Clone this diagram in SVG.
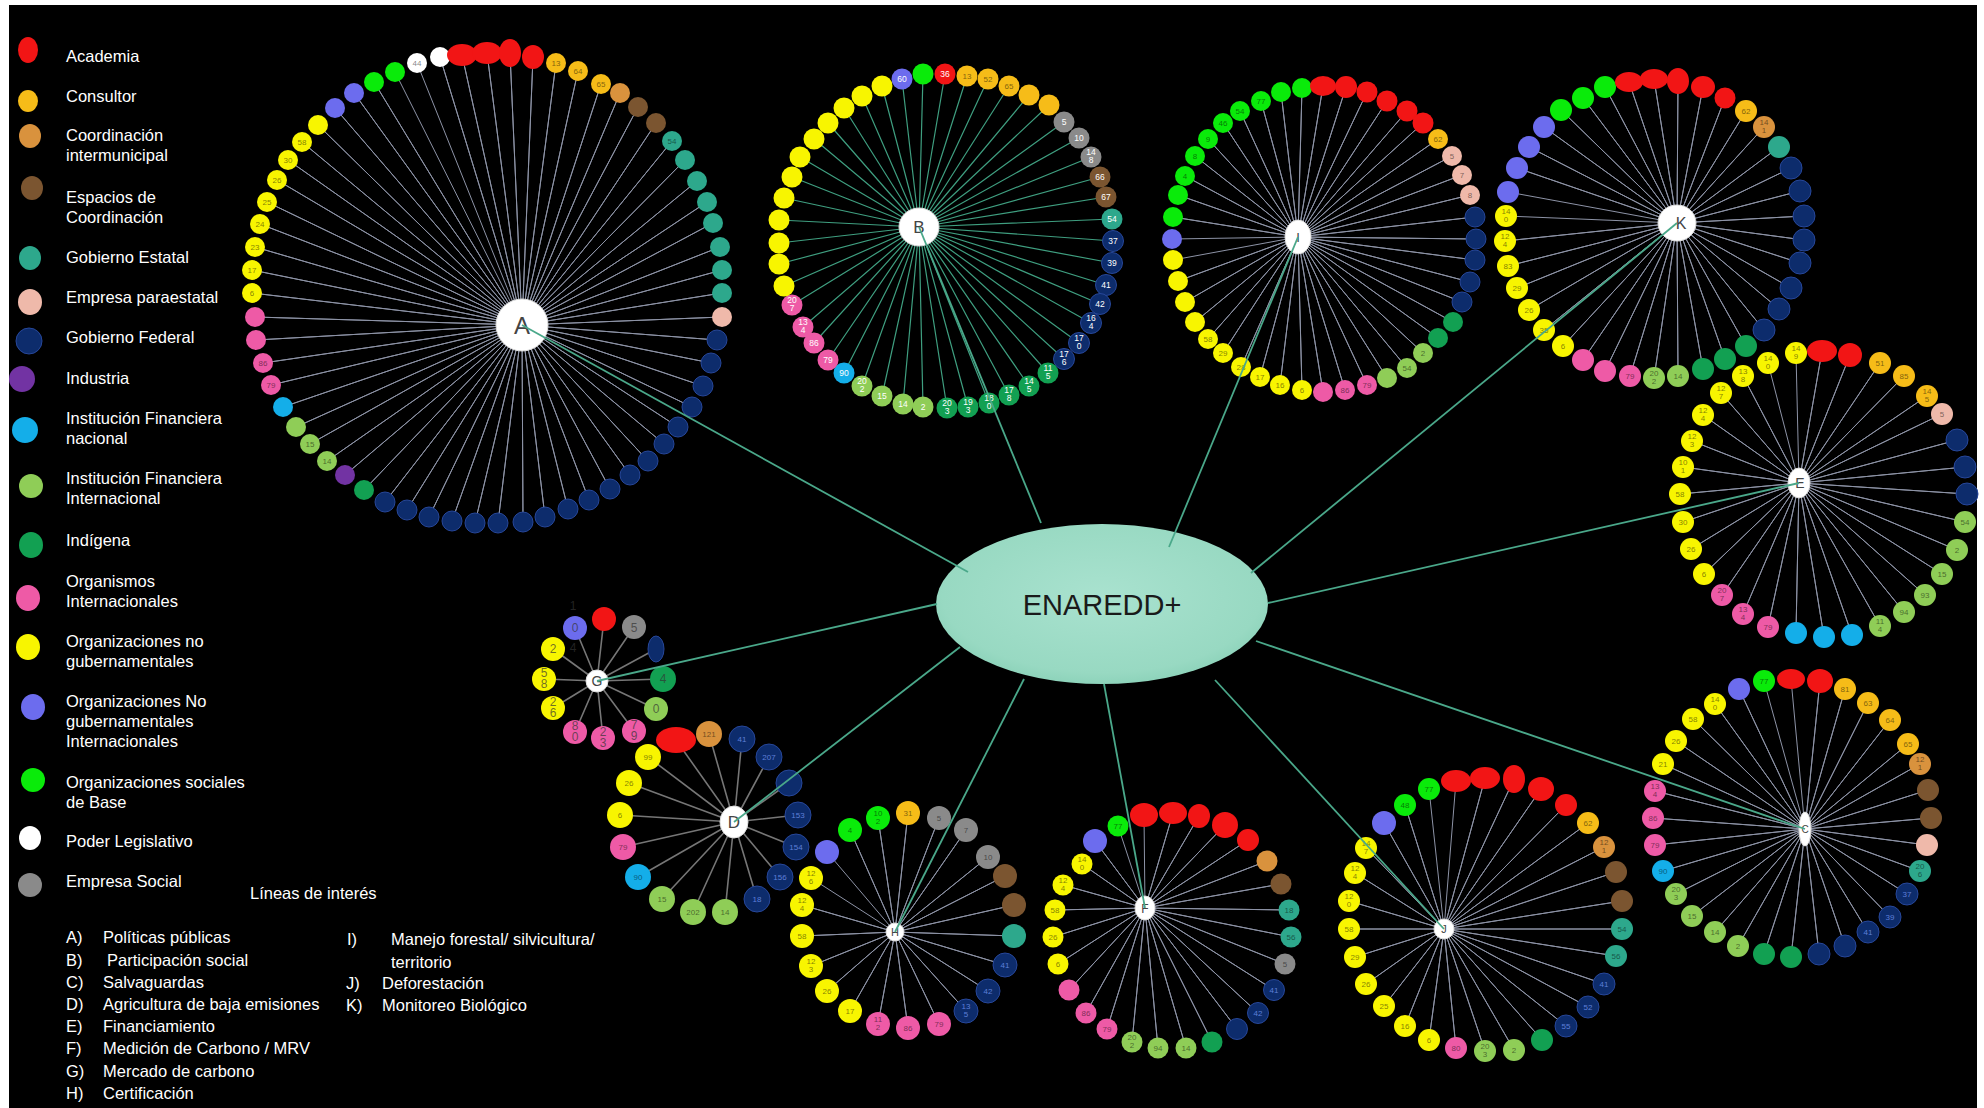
<svg xmlns="http://www.w3.org/2000/svg" width="1984" height="1108" viewBox="0 0 1984 1108">
<defs>
<radialGradient id="eg" cx="50%" cy="45%" r="60%">
<stop offset="0" stop-color="#a9e2cf"/><stop offset="0.8" stop-color="#98d9c2"/><stop offset="1" stop-color="#86cfb5"/>
</radialGradient>
<style>
.ac{fill:#f21515}.co{fill:#f6bc18}.ci{fill:#d9923d}.br{fill:#7b5530}.ge{fill:#2da88c}.ep{fill:#efb9aa}
.gf{fill:#0d2c6c;stroke:#27479a;stroke-width:1}.pu{fill:#7233a3}.sb{fill:#14aee9}.lg{fill:#8fcd57}
.in{fill:#12a052}.pk{fill:#ee5aa6}.ye{fill:#f8f500}.pw{fill:#6c6cee}.bg{fill:#0aeb0a}.wh{fill:#fff}.gy{fill:#8a8a8a}
.hub{fill:#fff;stroke:#ddd;stroke-width:1}
.sp{fill:none;stroke:#8d93a6;stroke-width:1;stroke-linejoin:round}
.spb{fill:none;stroke:#3f9f80;stroke-width:1.2;stroke-linejoin:round}
.spd{fill:none;stroke:#767676;stroke-width:1.6;stroke-linejoin:round}
.cn{stroke:#4aa88a;stroke-width:1.8;fill:none}
.lt{font-family:"Liberation Sans",Arial,sans-serif;font-size:16.5px;fill:#fff}
.t{font-family:"Liberation Sans",Arial,sans-serif;font-size:8px;text-anchor:middle;fill:#000;fill-opacity:.5}
.tw{font-family:"Liberation Sans",Arial,sans-serif;font-size:8.5px;text-anchor:middle;fill:#fff}
.tb{font-family:"Liberation Sans",Arial,sans-serif;font-size:8px;text-anchor:middle;fill:#5d7fd8}
.tg{font-family:"Liberation Sans",Arial,sans-serif;font-size:12px;text-anchor:middle;fill:#333;fill-opacity:.7}
.hl{font-family:"Liberation Sans",Arial,sans-serif;text-anchor:middle;fill:#444}
</style>
</defs>
<rect x="0" y="0" width="1984" height="1108" fill="#fff"/>
<rect x="9" y="5" width="1968" height="1103" fill="#000"/>

<g id="legend">
<ellipse class="ac" cx="28" cy="50" rx="10" ry="13"/><text class="lt" x="66" y="62">Academia</text>
<ellipse class="co" cx="28" cy="101" rx="10" ry="11"/><text class="lt" x="66" y="102">Consultor</text>
<ellipse class="ci" cx="30" cy="136" rx="11" ry="12"/><text class="lt" x="66" y="141">Coordinación</text><text class="lt" x="66" y="161">intermunicipal</text>
<ellipse class="br" cx="32" cy="188" rx="11" ry="12"/><text class="lt" x="66" y="203">Espacios de</text><text class="lt" x="66" y="223">Coordinación</text>
<ellipse class="ge" cx="30" cy="258" rx="11" ry="12"/><text class="lt" x="66" y="263">Gobierno Estatal</text>
<ellipse class="ep" cx="30" cy="302" rx="12" ry="13"/><text class="lt" x="66" y="303">Empresa paraestatal</text>
<ellipse class="gf" cx="29" cy="341" rx="13" ry="13"/><text class="lt" x="66" y="343">Gobierno Federal</text>
<ellipse class="pu" cx="22" cy="379" rx="13" ry="13"/><text class="lt" x="66" y="384">Industria</text>
<ellipse class="sb" cx="25" cy="430" rx="13" ry="13"/><text class="lt" x="66" y="424">Institución Financiera</text><text class="lt" x="66" y="444">nacional</text>
<ellipse class="lg" cx="31" cy="486" rx="12" ry="12"/><text class="lt" x="66" y="484">Institución Financiera</text><text class="lt" x="66" y="504">Internacional</text>
<ellipse class="in" cx="31" cy="545" rx="12" ry="13"/><text class="lt" x="66" y="546">Indígena</text>
<ellipse class="pk" cx="28" cy="598" rx="12" ry="13"/><text class="lt" x="66" y="587">Organismos</text><text class="lt" x="66" y="607">Internacionales</text>
<ellipse class="ye" cx="28" cy="647" rx="12" ry="13"/><text class="lt" x="66" y="647">Organizaciones no</text><text class="lt" x="66" y="667">gubernamentales</text>
<ellipse class="pw" cx="33" cy="707" rx="12" ry="13"/><text class="lt" x="66" y="707">Organizaciones No</text><text class="lt" x="66" y="727">gubernamentales</text><text class="lt" x="66" y="747">Internacionales</text>
<ellipse class="bg" cx="33" cy="780" rx="12" ry="12"/><text class="lt" x="66" y="788">Organizaciones sociales</text><text class="lt" x="66" y="808">de Base</text>
<ellipse class="wh" cx="30" cy="838" rx="11" ry="12"/><text class="lt" x="66" y="847">Poder Legislativo</text>
<ellipse class="gy" cx="30" cy="885" rx="12" ry="12"/><text class="lt" x="66" y="887">Empresa Social</text>
<text class="lt" x="250" y="899">Líneas de interés</text>
<text class="lt" x="66" y="943">A)</text><text class="lt" x="103" y="943">Políticas públicas</text>
<text class="lt" x="66" y="966">B)</text><text class="lt" x="107" y="966">Participación social</text>
<text class="lt" x="66" y="988">C)</text><text class="lt" x="103" y="988">Salvaguardas</text>
<text class="lt" x="66" y="1010">D)</text><text class="lt" x="103" y="1010">Agricultura de baja emisiones</text>
<text class="lt" x="66" y="1032">E)</text><text class="lt" x="103" y="1032">Financiamiento</text>
<text class="lt" x="66" y="1054">F)</text><text class="lt" x="103" y="1054">Medición de Carbono / MRV</text>
<text class="lt" x="66" y="1077">G)</text><text class="lt" x="103" y="1077">Mercado de carbono</text>
<text class="lt" x="66" y="1099">H)</text><text class="lt" x="103" y="1099">Certificación</text>
<text class="lt" x="347" y="945">I)</text><text class="lt" x="391" y="945">Manejo forestal/ silvicultura/</text>
<text class="lt" x="391" y="968">territorio</text>
<text class="lt" x="346" y="989">J)</text><text class="lt" x="382" y="989">Deforestación</text>
<text class="lt" x="346" y="1011">K)</text><text class="lt" x="382" y="1011">Monitoreo Biológico</text>
</g>

<g id="cluster-A">
<path class="sp" d="M417 63L522 325 440 57 522 325 462 55 522 325 487 53 522 325 510 53 522 325 533 57 522 325 556 63 522 325 578 71 522 325 601 84 522 325 620 93 522 325 638 107 522 325 656 123 522 325 672 141 522 325 685 160 522 325 697 181 522 325 707 202 522 325 713 223 522 325 720 247 522 325 722 270 522 325 722 293 522 325 722 317 522 325 717 340 522 325 711 363 522 325 703 386 522 325 692 407 522 325 678 427 522 325 664 444 522 325 648 461 522 325 630 475 522 325 610 489 522 325 589 500 522 325 568 509 522 325 545 517 522 325 523 522 522 325 498 523 522 325 475 523 522 325 452 521 522 325 429 517 522 325 407 510 522 325 385 502 522 325 364 490 522 325 345 475 522 325 327 461 522 325 310 444 522 325 296 427 522 325 283 407 522 325 271 385 522 325 263 363 522 325 256 340 522 325 255 317 522 325 252 293 522 325 252 270 522 325 255 247 522 325 260 224 522 325 267 202 522 325 277 180 522 325 288 160 522 325 302 142 522 325 318 125 522 325 335 108 522 325 354 93 522 325 374 82 522 325 395 72"/>
<circle class="wh" cx="417" cy="63" r="10"/><circle class="wh" cx="440" cy="57" r="10"/>
<ellipse class="ac" cx="462" cy="55" rx="15" ry="11"/><ellipse class="ac" cx="487" cy="53" rx="15" ry="11"/><ellipse class="ac" cx="510" cy="53" rx="11" ry="14"/><ellipse class="ac" cx="533" cy="57" rx="11" ry="12"/>
<circle class="co" cx="556" cy="63" r="10"/><circle class="co" cx="578" cy="71" r="10"/><circle class="co" cx="601" cy="84" r="10"/>
<circle class="ci" cx="620" cy="93" r="10"/><circle class="br" cx="638" cy="107" r="10"/><circle class="br" cx="656" cy="123" r="10"/>
<circle class="ge" cx="672" cy="141" r="10"/><circle class="ge" cx="685" cy="160" r="10"/><circle class="ge" cx="697" cy="181" r="10"/><circle class="ge" cx="707" cy="202" r="10"/><circle class="ge" cx="713" cy="223" r="10"/><circle class="ge" cx="720" cy="247" r="10"/><circle class="ge" cx="722" cy="270" r="10"/><circle class="ge" cx="722" cy="293" r="10"/>
<circle class="ep" cx="722" cy="317" r="10"/>
<circle class="gf" cx="717" cy="340" r="10"/><circle class="gf" cx="711" cy="363" r="10"/><circle class="gf" cx="703" cy="386" r="10"/><circle class="gf" cx="692" cy="407" r="10"/><circle class="gf" cx="678" cy="427" r="10"/><circle class="gf" cx="664" cy="444" r="10"/><circle class="gf" cx="648" cy="461" r="10"/><circle class="gf" cx="630" cy="475" r="10"/><circle class="gf" cx="610" cy="489" r="10"/><circle class="gf" cx="589" cy="500" r="10"/><circle class="gf" cx="568" cy="509" r="10"/><circle class="gf" cx="545" cy="517" r="10"/><circle class="gf" cx="523" cy="522" r="10"/><circle class="gf" cx="498" cy="523" r="10"/><circle class="gf" cx="475" cy="523" r="10"/><circle class="gf" cx="452" cy="521" r="10"/><circle class="gf" cx="429" cy="517" r="10"/><circle class="gf" cx="407" cy="510" r="10"/><circle class="gf" cx="385" cy="502" r="10"/>
<circle class="in" cx="364" cy="490" r="10"/><circle class="pu" cx="345" cy="475" r="10"/>
<circle class="lg" cx="327" cy="461" r="10"/><circle class="lg" cx="310" cy="444" r="10"/><circle class="lg" cx="296" cy="427" r="10"/>
<circle class="sb" cx="283" cy="407" r="10"/>
<circle class="pk" cx="271" cy="385" r="10"/><circle class="pk" cx="263" cy="363" r="10"/><circle class="pk" cx="256" cy="340" r="10"/><circle class="pk" cx="255" cy="317" r="10"/>
<circle class="ye" cx="252" cy="293" r="10"/><circle class="ye" cx="252" cy="270" r="10"/><circle class="ye" cx="255" cy="247" r="10"/><circle class="ye" cx="260" cy="224" r="10"/><circle class="ye" cx="267" cy="202" r="10"/><circle class="ye" cx="277" cy="180" r="10"/><circle class="ye" cx="288" cy="160" r="10"/><circle class="ye" cx="302" cy="142" r="10"/><circle class="ye" cx="318" cy="125" r="10"/>
<circle class="pw" cx="335" cy="108" r="10"/><circle class="pw" cx="354" cy="93" r="10"/>
<circle class="bg" cx="374" cy="82" r="10"/><circle class="bg" cx="395" cy="72" r="10"/>
<text class="t" x="417" y="66">44</text><text class="t" x="556" y="66">13</text><text class="t" x="578" y="74">64</text><text class="t" x="601" y="87">65</text><text class="t" x="672" y="144">54</text>
<text class="t" x="327" y="464">14</text><text class="t" x="310" y="447">15</text><text class="t" x="271" y="388">79</text><text class="t" x="263" y="366">86</text>
<text class="t" x="252" y="296">6</text><text class="t" x="252" y="273">17</text><text class="t" x="255" y="250">23</text><text class="t" x="260" y="227">24</text><text class="t" x="267" y="205">25</text><text class="t" x="277" y="183">26</text><text class="t" x="288" y="163">30</text><text class="t" x="302" y="145">58</text>
<circle class="hub" cx="522" cy="325" r="26"/><text class="hl" x="522" y="334" font-size="24">A</text>
</g>

<g id="cluster-B">
<path class="spb" d="M902 79L919 227 923 74 919 227 945 74 919 227 967 76 919 227 988 79 919 227 1009 86 919 227 1029 95 919 227 1049 105 919 227 1064 122 919 227 1079 138 919 227 1091 157 919 227 1100 177 919 227 1106 197 919 227 1112 219 919 227 1113 241 919 227 1112 263 919 227 1106 285 919 227 1100 304 919 227 1091 323 919 227 1079 343 919 227 1064 359 919 227 1048 373 919 227 1029 386 919 227 1009 395 919 227 989 403 919 227 968 407 919 227 947 408 919 227 923 407 919 227 903 404 919 227 882 396 919 227 862 386 919 227 844 373 919 227 828 360 919 227 814 343 919 227 803 327 919 227 792 305 919 227 784 286 919 227 779 264 919 227 779 243 919 227 779 220 919 227 784 198 919 227 792 177 919 227 800 157 919 227 814 139 919 227 828 123 919 227 844 108 919 227 862 96 919 227 882 86"/>
<circle class="pw" cx="902" cy="79" r="10.5"/><circle class="bg" cx="923" cy="74" r="10.5"/><circle class="ac" cx="945" cy="74" r="10.5"/>
<circle class="co" cx="967" cy="76" r="10.5"/><circle class="co" cx="988" cy="79" r="10.5"/><circle class="co" cx="1009" cy="86" r="10.5"/><circle class="co" cx="1029" cy="95" r="10.5"/><circle class="co" cx="1049" cy="105" r="10.5"/>
<circle class="gy" cx="1064" cy="122" r="10.5"/><circle class="gy" cx="1079" cy="138" r="10.5"/><circle class="gy" cx="1091" cy="157" r="10.5"/>
<circle class="br" cx="1100" cy="177" r="10.5"/><circle class="br" cx="1106" cy="197" r="10.5"/><circle class="ge" cx="1112" cy="219" r="10.5"/>
<circle class="gf" cx="1113" cy="241" r="10.5"/><circle class="gf" cx="1112" cy="263" r="10.5"/><circle class="gf" cx="1106" cy="285" r="10.5"/><circle class="gf" cx="1100" cy="304" r="10.5"/><circle class="gf" cx="1091" cy="323" r="10.5"/><circle class="gf" cx="1079" cy="343" r="10.5"/><circle class="gf" cx="1064" cy="359" r="10.5"/>
<circle class="in" cx="1048" cy="373" r="10.5"/><circle class="in" cx="1029" cy="386" r="10.5"/><circle class="in" cx="1009" cy="395" r="10.5"/><circle class="in" cx="989" cy="403" r="10.5"/><circle class="in" cx="968" cy="407" r="10.5"/><circle class="in" cx="947" cy="408" r="10.5"/>
<circle class="lg" cx="923" cy="407" r="10.5"/><circle class="lg" cx="903" cy="404" r="10.5"/><circle class="lg" cx="882" cy="396" r="10.5"/><circle class="lg" cx="862" cy="386" r="10.5"/>
<circle class="sb" cx="844" cy="373" r="10.5"/>
<circle class="pk" cx="828" cy="360" r="10.5"/><circle class="pk" cx="814" cy="343" r="10.5"/><circle class="pk" cx="803" cy="327" r="10.5"/><circle class="pk" cx="792" cy="305" r="10.5"/>
<circle class="ye" cx="784" cy="286" r="10.5"/><circle class="ye" cx="779" cy="264" r="10.5"/><circle class="ye" cx="779" cy="243" r="10.5"/><circle class="ye" cx="779" cy="220" r="10.5"/><circle class="ye" cx="784" cy="198" r="10.5"/><circle class="ye" cx="792" cy="177" r="10.5"/><circle class="ye" cx="800" cy="157" r="10.5"/><circle class="ye" cx="814" cy="139" r="10.5"/><circle class="ye" cx="828" cy="123" r="10.5"/><circle class="ye" cx="844" cy="108" r="10.5"/><circle class="ye" cx="862" cy="96" r="10.5"/><circle class="ye" cx="882" cy="86" r="10.5"/>
<text class="tw" x="902" y="82">60</text><text class="tw" x="945" y="77">36</text><text class="t" x="967" y="79">13</text><text class="t" x="988" y="82">52</text><text class="t" x="1009" y="89">65</text>
<text class="tw" x="1064" y="125">5</text><text class="tw" x="1079" y="141">10</text><text class="tw" x="1091" y="155">14<tspan x="1091" dy="8">8</tspan></text>
<text class="tw" x="1100" y="180">66</text><text class="tw" x="1106" y="200">67</text><text class="tw" x="1112" y="222">54</text>
<text class="tw" x="1113" y="244">37</text><text class="tw" x="1112" y="266">39</text><text class="tw" x="1106" y="288">41</text><text class="tw" x="1100" y="307">42</text>
<text class="tw" x="1091" y="321">16<tspan x="1091" dy="8">4</tspan></text><text class="tw" x="1079" y="341">17<tspan x="1079" dy="8">0</tspan></text><text class="tw" x="1064" y="357">17<tspan x="1064" dy="8">6</tspan></text>
<text class="tw" x="1048" y="371">11<tspan x="1048" dy="8">5</tspan></text><text class="tw" x="1029" y="384">14<tspan x="1029" dy="8">5</tspan></text><text class="tw" x="1009" y="393">17<tspan x="1009" dy="8">8</tspan></text><text class="tw" x="989" y="401">18<tspan x="989" dy="8">0</tspan></text><text class="tw" x="968" y="405">19<tspan x="968" dy="8">3</tspan></text><text class="tw" x="947" y="406">20<tspan x="947" dy="8">3</tspan></text>
<text class="tw" x="923" y="410">2</text><text class="tw" x="903" y="407">14</text><text class="tw" x="882" y="399">15</text><text class="tw" x="862" y="384">20<tspan x="862" dy="8">2</tspan></text>
<text class="tw" x="844" y="376">90</text><text class="tw" x="828" y="363">79</text><text class="tw" x="814" y="346">86</text><text class="tw" x="803" y="325">13<tspan x="803" dy="8">4</tspan></text><text class="tw" x="792" y="303">20<tspan x="792" dy="8">7</tspan></text>
<ellipse class="hub" cx="919" cy="227" rx="20" ry="19"/><text class="hl" x="919" y="233" font-size="17" fill="#222">B</text>
</g>

<g id="cluster-I">
<path class="sp" d="M1172 239L1298 237 1173 217 1298 237 1178 195 1298 237 1185 176 1298 237 1195 156 1298 237 1208 139 1298 237 1223 123 1298 237 1240 111 1298 237 1261 101 1298 237 1281 92 1298 237 1302 88 1298 237 1323 86 1298 237 1346 87 1298 237 1367 92 1298 237 1387 101 1298 237 1407 111 1298 237 1423 123 1298 237 1438 139 1298 237 1452 156 1298 237 1462 175 1298 237 1470 195 1298 237 1475 217 1298 237 1476 239 1298 237 1475 260 1298 237 1470 282 1298 237 1462 302 1298 237 1453 322 1298 237 1438 338 1298 237 1423 353 1298 237 1407 368 1298 237 1387 378 1298 237 1367 385 1298 237 1345 390 1298 237 1323 392 1298 237 1302 390 1298 237 1280 385 1298 237 1260 377 1298 237 1241 367 1298 237 1223 353 1298 237 1208 339 1298 237 1195 322 1298 237 1185 302 1298 237 1178 281 1298 237 1173 260"/>
<circle class="pw" cx="1172" cy="239" r="10"/>
<circle class="bg" cx="1173" cy="217" r="10"/><circle class="bg" cx="1178" cy="195" r="10"/><circle class="bg" cx="1185" cy="176" r="10"/><circle class="bg" cx="1195" cy="156" r="10"/><circle class="bg" cx="1208" cy="139" r="10"/><circle class="bg" cx="1223" cy="123" r="10"/><circle class="bg" cx="1240" cy="111" r="10"/><circle class="bg" cx="1261" cy="101" r="10"/><circle class="bg" cx="1281" cy="92" r="10"/><circle class="bg" cx="1302" cy="88" r="10"/>
<ellipse class="ac" cx="1323" cy="86" rx="13" ry="10"/><circle class="ac" cx="1346" cy="87" r="11"/><circle class="ac" cx="1367" cy="92" r="10.5"/><circle class="ac" cx="1387" cy="101" r="10.5"/><circle class="ac" cx="1407" cy="111" r="10.5"/><circle class="ac" cx="1423" cy="123" r="10.5"/>
<circle class="co" cx="1438" cy="139" r="10"/>
<circle class="ep" cx="1452" cy="156" r="10"/><circle class="ep" cx="1462" cy="175" r="10"/><circle class="ep" cx="1470" cy="195" r="10"/>
<circle class="gf" cx="1475" cy="217" r="10"/><circle class="gf" cx="1476" cy="239" r="10"/><circle class="gf" cx="1475" cy="260" r="10"/><circle class="gf" cx="1470" cy="282" r="10"/><circle class="gf" cx="1462" cy="302" r="10"/>
<circle class="in" cx="1453" cy="322" r="10"/><circle class="in" cx="1438" cy="338" r="10"/>
<circle class="lg" cx="1423" cy="353" r="10"/><circle class="lg" cx="1407" cy="368" r="10"/><circle class="lg" cx="1387" cy="378" r="10"/>
<circle class="pk" cx="1367" cy="385" r="10"/><circle class="pk" cx="1345" cy="390" r="10"/><circle class="pk" cx="1323" cy="392" r="10"/>
<circle class="ye" cx="1302" cy="390" r="10"/><circle class="ye" cx="1280" cy="385" r="10"/><circle class="ye" cx="1260" cy="377" r="10"/><circle class="ye" cx="1241" cy="367" r="10"/><circle class="ye" cx="1223" cy="353" r="10"/><circle class="ye" cx="1208" cy="339" r="10"/><circle class="ye" cx="1195" cy="322" r="10"/><circle class="ye" cx="1185" cy="302" r="10"/><circle class="ye" cx="1178" cy="281" r="10"/><circle class="ye" cx="1173" cy="260" r="10"/>
<text class="t" x="1185" y="179">4</text><text class="t" x="1195" y="159">8</text><text class="t" x="1208" y="142">9</text><text class="t" x="1223" y="126">46</text><text class="t" x="1240" y="114">54</text><text class="t" x="1261" y="104">77</text>
<text class="t" x="1438" y="142">62</text><text class="t" x="1452" y="159">5</text><text class="t" x="1462" y="178">7</text><text class="t" x="1470" y="198">8</text>
<text class="t" x="1423" y="356">2</text><text class="t" x="1407" y="371">54</text><text class="t" x="1367" y="388">79</text><text class="t" x="1345" y="393">86</text>
<text class="t" x="1302" y="393">6</text><text class="t" x="1280" y="388">16</text><text class="t" x="1260" y="380">17</text><text class="t" x="1241" y="370">28</text><text class="t" x="1223" y="356">29</text><text class="t" x="1208" y="342">58</text>
<ellipse class="hub" cx="1298" cy="237" rx="13" ry="17"/><text class="hl" x="1298" y="242" font-size="13">I</text>
</g>

<g id="cluster-K">
<path class="sp" d="M1508 192L1677 223 1517 168 1677 223 1529 147 1677 223 1544 127 1677 223 1561 110 1677 223 1583 98 1677 223 1605 87 1677 223 1629 82 1677 223 1654 79 1677 223 1678 81 1677 223 1703 87 1677 223 1725 98 1677 223 1746 111 1677 223 1764 127 1677 223 1779 147 1677 223 1791 168 1677 223 1800 191 1677 223 1804 216 1677 223 1804 240 1677 223 1800 263 1677 223 1791 288 1677 223 1779 309 1677 223 1764 330 1677 223 1746 346 1677 223 1725 359 1677 223 1703 369 1677 223 1678 376 1677 223 1654 378 1677 223 1630 376 1677 223 1605 371 1677 223 1583 360 1677 223 1563 346 1677 223 1544 330 1677 223 1529 310 1677 223 1517 288 1677 223 1508 266 1677 223 1505 241 1677 223 1506 216"/>
<circle class="pw" cx="1508" cy="192" r="11"/><circle class="pw" cx="1517" cy="168" r="11"/><circle class="pw" cx="1529" cy="147" r="11"/><circle class="pw" cx="1544" cy="127" r="11"/>
<circle class="bg" cx="1561" cy="110" r="11"/><circle class="bg" cx="1583" cy="98" r="11"/><circle class="bg" cx="1605" cy="87" r="11"/>
<ellipse class="ac" cx="1629" cy="82" rx="14" ry="10"/><ellipse class="ac" cx="1654" cy="79" rx="14" ry="10"/><ellipse class="ac" cx="1678" cy="81" rx="11" ry="13"/><ellipse class="ac" cx="1703" cy="87" rx="12" ry="11"/><circle class="ac" cx="1725" cy="98" r="10.5"/>
<circle class="co" cx="1746" cy="111" r="11"/><circle class="ci" cx="1764" cy="127" r="11"/><circle class="ge" cx="1779" cy="147" r="11"/>
<circle class="gf" cx="1791" cy="168" r="11"/><circle class="gf" cx="1800" cy="191" r="11"/><circle class="gf" cx="1804" cy="216" r="11"/><circle class="gf" cx="1804" cy="240" r="11"/><circle class="gf" cx="1800" cy="263" r="11"/><circle class="gf" cx="1791" cy="288" r="11"/><circle class="gf" cx="1779" cy="309" r="11"/><circle class="gf" cx="1764" cy="330" r="11"/>
<circle class="in" cx="1746" cy="346" r="11"/><circle class="in" cx="1725" cy="359" r="11"/><circle class="in" cx="1703" cy="369" r="11"/>
<circle class="lg" cx="1678" cy="376" r="11"/><circle class="lg" cx="1654" cy="378" r="11"/>
<circle class="pk" cx="1630" cy="376" r="11"/><circle class="pk" cx="1605" cy="371" r="11"/><circle class="pk" cx="1583" cy="360" r="11"/>
<circle class="ye" cx="1563" cy="346" r="11"/><circle class="ye" cx="1544" cy="330" r="11"/><circle class="ye" cx="1529" cy="310" r="11"/><circle class="ye" cx="1517" cy="288" r="11"/><circle class="ye" cx="1508" cy="266" r="11"/><circle class="ye" cx="1505" cy="241" r="11"/><circle class="ye" cx="1506" cy="216" r="11"/>
<text class="t" x="1746" y="114">62</text><text class="t" x="1764" y="125">14<tspan x="1764" dy="8">1</tspan></text><text class="t" x="1678" y="379">14</text><text class="t" x="1654" y="376">20<tspan x="1654" dy="8">2</tspan></text><text class="t" x="1630" y="379">79</text>
<text class="t" x="1563" y="349">6</text><text class="t" x="1544" y="333">35</text><text class="t" x="1529" y="313">26</text><text class="t" x="1517" y="291">29</text><text class="t" x="1508" y="269">83</text><text class="t" x="1505" y="239">12<tspan x="1505" dy="8">4</tspan></text><text class="t" x="1506" y="214">14<tspan x="1506" dy="8">0</tspan></text>
<ellipse class="hub" cx="1677" cy="223" rx="19" ry="18"/><text class="hl" x="1681" y="229" font-size="16">K</text>
</g>

<g id="cluster-E">
<path class="sp" d="M1796 353L1799 483 1822 351 1799 483 1850 355 1799 483 1880 363 1799 483 1904 376 1799 483 1927 396 1799 483 1942 414 1799 483 1957 440 1799 483 1965 467 1799 483 1967 494 1799 483 1965 522 1799 483 1957 550 1799 483 1942 574 1799 483 1925 595 1799 483 1904 612 1799 483 1880 626 1799 483 1852 635 1799 483 1824 637 1799 483 1796 633 1799 483 1768 627 1799 483 1743 614 1799 483 1722 595 1799 483 1704 574 1799 483 1691 549 1799 483 1683 522 1799 483 1680 494 1799 483 1683 467 1799 483 1692 441 1799 483 1703 415 1799 483 1721 393 1799 483 1743 376 1799 483 1768 363"/>
<circle class="ye" cx="1796" cy="353" r="11"/>
<ellipse class="ac" cx="1822" cy="351" rx="15" ry="11"/><circle class="ac" cx="1850" cy="355" r="12"/>
<circle class="co" cx="1880" cy="363" r="11"/><circle class="co" cx="1904" cy="376" r="11"/><circle class="co" cx="1927" cy="396" r="11"/>
<circle class="ep" cx="1942" cy="414" r="11"/>
<circle class="gf" cx="1957" cy="440" r="11"/><circle class="gf" cx="1965" cy="467" r="11"/><circle class="gf" cx="1967" cy="494" r="11"/>
<circle class="lg" cx="1965" cy="522" r="11"/><circle class="lg" cx="1957" cy="550" r="11"/><circle class="lg" cx="1942" cy="574" r="11"/><circle class="lg" cx="1925" cy="595" r="11"/><circle class="lg" cx="1904" cy="612" r="11"/><circle class="lg" cx="1880" cy="626" r="11"/>
<circle class="sb" cx="1852" cy="635" r="11"/><circle class="sb" cx="1824" cy="637" r="11"/><circle class="sb" cx="1796" cy="633" r="11"/>
<circle class="pk" cx="1768" cy="627" r="11"/><circle class="pk" cx="1743" cy="614" r="11"/><circle class="pk" cx="1722" cy="595" r="11"/>
<circle class="ye" cx="1704" cy="574" r="11"/><circle class="ye" cx="1691" cy="549" r="11"/><circle class="ye" cx="1683" cy="522" r="11"/><circle class="ye" cx="1680" cy="494" r="11"/><circle class="ye" cx="1683" cy="467" r="11"/><circle class="ye" cx="1692" cy="441" r="11"/><circle class="ye" cx="1703" cy="415" r="11"/><circle class="ye" cx="1721" cy="393" r="11"/><circle class="ye" cx="1743" cy="376" r="11"/><circle class="ye" cx="1768" cy="363" r="11"/>
<text class="t" x="1796" y="351">14<tspan x="1796" dy="8">9</tspan></text><text class="t" x="1880" y="366">51</text><text class="t" x="1904" y="379">85</text><text class="t" x="1927" y="394">14<tspan x="1927" dy="8">5</tspan></text><text class="t" x="1942" y="417">5</text>
<text class="t" x="1965" y="525">54</text><text class="t" x="1957" y="553">2</text><text class="t" x="1942" y="577">15</text><text class="t" x="1925" y="598">93</text><text class="t" x="1904" y="615">94</text><text class="t" x="1880" y="624">11<tspan x="1880" dy="8">4</tspan></text>
<text class="t" x="1768" y="630">79</text><text class="t" x="1743" y="612">13<tspan x="1743" dy="8">4</tspan></text><text class="t" x="1722" y="593">20<tspan x="1722" dy="8">7</tspan></text>
<text class="t" x="1704" y="577">6</text><text class="t" x="1691" y="552">26</text><text class="t" x="1683" y="525">30</text><text class="t" x="1680" y="497">58</text><text class="t" x="1683" y="465">10<tspan x="1683" dy="8">1</tspan></text><text class="t" x="1692" y="439">12<tspan x="1692" dy="8">3</tspan></text><text class="t" x="1703" y="413">12<tspan x="1703" dy="8">4</tspan></text><text class="t" x="1721" y="391">12<tspan x="1721" dy="8">7</tspan></text><text class="t" x="1743" y="374">13<tspan x="1743" dy="8">8</tspan></text><text class="t" x="1768" y="361">14<tspan x="1768" dy="8">0</tspan></text>
<ellipse class="hub" cx="1799" cy="483" rx="11" ry="15"/><text class="hl" x="1800" y="488" font-size="14">E</text>
</g>

<g id="cluster-C">
<path class="sp" d="M1791 679L1805 829 1820 681 1805 829 1845 689 1805 829 1868 703 1805 829 1890 720 1805 829 1908 744 1805 829 1920 764 1805 829 1928 790 1805 829 1931 818 1805 829 1927 845 1805 829 1920 871 1805 829 1907 894 1805 829 1890 917 1805 829 1868 932 1805 829 1845 946 1805 829 1819 954 1805 829 1791 957 1805 829 1764 954 1805 829 1738 946 1805 829 1715 932 1805 829 1692 916 1805 829 1676 894 1805 829 1663 871 1805 829 1655 845 1805 829 1653 818 1805 829 1655 791 1805 829 1663 764 1805 829 1676 741 1805 829 1693 719 1805 829 1715 704 1805 829 1739 689 1805 829 1764 681"/>
<ellipse class="ac" cx="1791" cy="679" rx="14" ry="10"/><ellipse class="ac" cx="1820" cy="681" rx="13" ry="12"/>
<circle class="co" cx="1845" cy="689" r="11"/><circle class="co" cx="1868" cy="703" r="11"/><circle class="co" cx="1890" cy="720" r="11"/><circle class="co" cx="1908" cy="744" r="11"/>
<circle class="ci" cx="1920" cy="764" r="11"/><circle class="br" cx="1928" cy="790" r="11"/><circle class="br" cx="1931" cy="818" r="11"/><circle class="ep" cx="1927" cy="845" r="11"/><circle class="ge" cx="1920" cy="871" r="11"/>
<circle class="gf" cx="1907" cy="894" r="11"/><circle class="gf" cx="1890" cy="917" r="11"/><circle class="gf" cx="1868" cy="932" r="11"/><circle class="gf" cx="1845" cy="946" r="11"/><circle class="gf" cx="1819" cy="954" r="11"/>
<circle class="in" cx="1791" cy="957" r="11"/><circle class="in" cx="1764" cy="954" r="11"/>
<circle class="lg" cx="1738" cy="946" r="11"/><circle class="lg" cx="1715" cy="932" r="11"/><circle class="lg" cx="1692" cy="916" r="11"/><circle class="lg" cx="1676" cy="894" r="11"/>
<circle class="sb" cx="1663" cy="871" r="11"/>
<circle class="pk" cx="1655" cy="845" r="11"/><circle class="pk" cx="1653" cy="818" r="11"/><circle class="pk" cx="1655" cy="791" r="11"/>
<circle class="ye" cx="1663" cy="764" r="11"/><circle class="ye" cx="1676" cy="741" r="11"/><circle class="ye" cx="1693" cy="719" r="11"/><circle class="ye" cx="1715" cy="704" r="11"/>
<circle class="pw" cx="1739" cy="689" r="11"/><circle class="bg" cx="1764" cy="681" r="11"/>
<text class="t" x="1845" y="692">81</text><text class="t" x="1868" y="706">63</text><text class="t" x="1890" y="723">64</text><text class="t" x="1908" y="747">65</text><text class="t" x="1920" y="762">12<tspan x="1920" dy="8">1</tspan></text><text class="t" x="1920" y="869">20<tspan x="1920" dy="8">6</tspan></text>
<text class="tb" x="1907" y="897">37</text><text class="tb" x="1890" y="920">39</text><text class="tb" x="1868" y="935">41</text>
<text class="t" x="1738" y="949">2</text><text class="t" x="1715" y="935">14</text><text class="t" x="1692" y="919">15</text><text class="t" x="1676" y="892">20<tspan x="1676" dy="8">3</tspan></text><text class="t" x="1663" y="874">90</text>
<text class="t" x="1655" y="848">79</text><text class="t" x="1653" y="821">86</text><text class="t" x="1655" y="789">13<tspan x="1655" dy="8">4</tspan></text>
<text class="t" x="1663" y="767">21</text><text class="t" x="1676" y="744">26</text><text class="t" x="1693" y="722">58</text><text class="t" x="1715" y="702">14<tspan x="1715" dy="8">0</tspan></text><text class="t" x="1764" y="684">77</text>
<ellipse class="hub" cx="1805" cy="829" rx="6" ry="17"/><text class="hl" x="1805" y="833" font-size="10">C</text>
</g>

<g id="cluster-J">
<path class="sp" d="M1456 781L1444 929 1485 778 1444 929 1514 779 1444 929 1541 789 1444 929 1566 805 1444 929 1588 823 1444 929 1604 847 1444 929 1616 872 1444 929 1622 901 1444 929 1622 929 1444 929 1616 956 1444 929 1604 984 1444 929 1588 1007 1444 929 1566 1026 1444 929 1542 1040 1444 929 1514 1050 1444 929 1485 1051 1444 929 1456 1048 1444 929 1429 1040 1444 929 1405 1026 1444 929 1384 1006 1444 929 1366 984 1444 929 1355 957 1444 929 1349 929 1444 929 1349 901 1444 929 1355 873 1444 929 1366 848 1444 929 1384 823 1444 929 1405 805 1444 929 1429 789"/>
<ellipse class="ac" cx="1456" cy="781" rx="15" ry="11"/><ellipse class="ac" cx="1485" cy="778" rx="15" ry="11"/><ellipse class="ac" cx="1514" cy="779" rx="11" ry="14"/><ellipse class="ac" cx="1541" cy="789" rx="13" ry="12"/><circle class="ac" cx="1566" cy="805" r="11"/>
<circle class="co" cx="1588" cy="823" r="11"/><circle class="ci" cx="1604" cy="847" r="11"/><circle class="br" cx="1616" cy="872" r="11"/><circle class="br" cx="1622" cy="901" r="11"/>
<circle class="ge" cx="1622" cy="929" r="11"/><circle class="ge" cx="1616" cy="956" r="11"/>
<circle class="gf" cx="1604" cy="984" r="11"/><circle class="gf" cx="1588" cy="1007" r="11"/><circle class="gf" cx="1566" cy="1026" r="11"/>
<circle class="in" cx="1542" cy="1040" r="11"/><circle class="lg" cx="1514" cy="1050" r="11"/><circle class="lg" cx="1485" cy="1051" r="11"/><circle class="pk" cx="1456" cy="1048" r="11"/>
<circle class="ye" cx="1429" cy="1040" r="11"/><circle class="ye" cx="1405" cy="1026" r="11"/><circle class="ye" cx="1384" cy="1006" r="11"/><circle class="ye" cx="1366" cy="984" r="11"/><circle class="ye" cx="1355" cy="957" r="11"/><circle class="ye" cx="1349" cy="929" r="11"/><circle class="ye" cx="1349" cy="901" r="11"/><circle class="ye" cx="1355" cy="873" r="11"/><circle class="ye" cx="1366" cy="848" r="11"/>
<circle class="pw" cx="1384" cy="823" r="12"/><circle class="bg" cx="1405" cy="805" r="11"/><circle class="bg" cx="1429" cy="789" r="11"/>
<text class="t" x="1588" y="826">62</text><text class="t" x="1604" y="845">12<tspan x="1604" dy="8">1</tspan></text><text class="t" x="1622" y="932">54</text><text class="t" x="1616" y="959">56</text>
<text class="tb" x="1604" y="987">41</text><text class="tb" x="1588" y="1010">52</text><text class="tb" x="1566" y="1029">55</text>
<text class="t" x="1514" y="1053">2</text><text class="t" x="1485" y="1049">20<tspan x="1485" dy="8">3</tspan></text><text class="t" x="1456" y="1051">80</text>
<text class="t" x="1429" y="1043">6</text><text class="t" x="1405" y="1029">16</text><text class="t" x="1384" y="1009">25</text><text class="t" x="1366" y="987">26</text><text class="t" x="1355" y="960">29</text><text class="t" x="1349" y="932">58</text><text class="t" x="1349" y="899">12<tspan x="1349" dy="8">0</tspan></text><text class="t" x="1355" y="871">12<tspan x="1355" dy="8">4</tspan></text><text class="t" x="1366" y="846">14<tspan x="1366" dy="8">7</tspan></text>
<text class="t" x="1405" y="808">48</text><text class="t" x="1429" y="792">77</text>
<circle class="hub" cx="1444" cy="929" r="10"/><text class="hl" x="1444" y="933" font-size="11">J</text>
</g>

<g id="cluster-F">
<path class="sp" d="M1118 826L1145 908 1095 841 1145 908 1082 864 1145 908 1063 885 1145 908 1055 910 1145 908 1053 937 1145 908 1058 964 1145 908 1069 990 1145 908 1086 1013 1145 908 1107 1029 1145 908 1132 1042 1145 908 1158 1048 1145 908 1186 1048 1145 908 1212 1042 1145 908 1237 1029 1145 908 1258 1013 1145 908 1274 990 1145 908 1285 964 1145 908 1291 937 1145 908 1289 910 1145 908 1281 884 1145 908 1267 861 1145 908 1248 840 1145 908 1225 825 1145 908 1199 816 1145 908 1173 813 1145 908 1144 815"/>
<circle class="bg" cx="1118" cy="826" r="10.5"/><circle class="pw" cx="1095" cy="841" r="12"/>
<circle class="ye" cx="1082" cy="864" r="10.5"/><circle class="ye" cx="1063" cy="885" r="10.5"/><circle class="ye" cx="1055" cy="910" r="10.5"/><circle class="ye" cx="1053" cy="937" r="10.5"/><circle class="ye" cx="1058" cy="964" r="10.5"/>
<circle class="pk" cx="1069" cy="990" r="10.5"/><circle class="pk" cx="1086" cy="1013" r="10.5"/><circle class="pk" cx="1107" cy="1029" r="10.5"/>
<circle class="lg" cx="1132" cy="1042" r="10.5"/><circle class="lg" cx="1158" cy="1048" r="10.5"/><circle class="lg" cx="1186" cy="1048" r="10.5"/>
<circle class="in" cx="1212" cy="1042" r="10.5"/>
<circle class="gf" cx="1237" cy="1029" r="10.5"/><circle class="gf" cx="1258" cy="1013" r="10.5"/><circle class="gf" cx="1274" cy="990" r="10.5"/>
<circle class="gy" cx="1285" cy="964" r="10.5"/><circle class="ge" cx="1291" cy="937" r="10.5"/><circle class="ge" cx="1289" cy="910" r="10.5"/><circle class="br" cx="1281" cy="884" r="10.5"/><circle class="ci" cx="1267" cy="861" r="10.5"/>
<circle class="ac" cx="1248" cy="840" r="11"/><circle class="ac" cx="1225" cy="825" r="13"/><ellipse class="ac" cx="1199" cy="816" rx="11" ry="12"/><ellipse class="ac" cx="1173" cy="813" rx="14" ry="11"/><ellipse class="ac" cx="1144" cy="815" rx="14" ry="12"/>
<text class="t" x="1118" y="829">77</text><text class="t" x="1082" y="862">14<tspan x="1082" dy="8">0</tspan></text><text class="t" x="1063" y="883">12<tspan x="1063" dy="8">4</tspan></text><text class="t" x="1055" y="913">58</text><text class="t" x="1053" y="940">26</text><text class="t" x="1058" y="967">6</text>
<text class="t" x="1086" y="1016">86</text><text class="t" x="1107" y="1032">79</text><text class="t" x="1132" y="1040">20<tspan x="1132" dy="8">2</tspan></text><text class="t" x="1158" y="1051">94</text><text class="t" x="1186" y="1051">14</text>
<text class="tb" x="1258" y="1016">42</text><text class="tb" x="1274" y="993">41</text><text class="t" x="1285" y="967">5</text><text class="t" x="1291" y="940">56</text><text class="t" x="1289" y="913">18</text>
<ellipse class="hub" cx="1145" cy="908" rx="10" ry="12"/><text class="hl" x="1145" y="913" font-size="12">F</text>
</g>

<g id="cluster-H">
<path class="sp" d="M827 852L895 932 850 830 895 932 878 818 895 932 908 813 895 932 939 818 895 932 966 830 895 932 988 857 895 932 1005 876 895 932 1014 905 895 932 1014 936 895 932 1005 965 895 932 988 991 895 932 966 1011 895 932 939 1024 895 932 908 1028 895 932 878 1024 895 932 850 1011 895 932 827 991 895 932 811 966 895 932 802 936 895 932 802 905 895 932 811 878"/>
<circle class="pw" cx="827" cy="852" r="12"/><circle class="bg" cx="850" cy="830" r="12"/><circle class="bg" cx="878" cy="818" r="12"/><circle class="co" cx="908" cy="813" r="12"/>
<circle class="gy" cx="939" cy="818" r="12"/><circle class="gy" cx="966" cy="830" r="12"/><circle class="gy" cx="988" cy="857" r="12"/>
<circle class="br" cx="1005" cy="876" r="12"/><circle class="br" cx="1014" cy="905" r="12"/><circle class="ge" cx="1014" cy="936" r="12"/>
<circle class="gf" cx="1005" cy="965" r="12"/><circle class="gf" cx="988" cy="991" r="12"/><circle class="gf" cx="966" cy="1011" r="12"/>
<circle class="pk" cx="939" cy="1024" r="12"/><circle class="pk" cx="908" cy="1028" r="12"/><circle class="pk" cx="878" cy="1024" r="12"/>
<circle class="ye" cx="850" cy="1011" r="12"/><circle class="ye" cx="827" cy="991" r="12"/><circle class="ye" cx="811" cy="966" r="12"/><circle class="ye" cx="802" cy="936" r="12"/><circle class="ye" cx="802" cy="905" r="12"/><circle class="ye" cx="811" cy="878" r="12"/>
<text class="t" x="850" y="833">4</text><text class="t" x="878" y="816">10<tspan x="878" dy="8">2</tspan></text><text class="t" x="908" y="816">31</text><text class="t" x="939" y="821">5</text><text class="t" x="966" y="833">7</text><text class="t" x="988" y="860">10</text>
<text class="tb" x="1005" y="968">41</text><text class="tb" x="988" y="994">42</text><text class="tb" x="966" y="1009">13<tspan x="966" dy="8">5</tspan></text>
<text class="t" x="939" y="1027">79</text><text class="t" x="908" y="1031">86</text><text class="t" x="878" y="1022">11<tspan x="878" dy="8">2</tspan></text>
<text class="t" x="850" y="1014">17</text><text class="t" x="827" y="994">26</text><text class="t" x="811" y="964">12<tspan x="811" dy="8">3</tspan></text><text class="t" x="802" y="939">58</text><text class="t" x="802" y="903">12<tspan x="802" dy="8">4</tspan></text><text class="t" x="811" y="876">12<tspan x="811" dy="8">6</tspan></text>
<circle class="hub" cx="895" cy="932" r="9"/><text class="hl" x="895" y="936" font-size="11">H</text>
</g>

<g id="cluster-D">
<path class="spd" d="M676 740L734 822 709 734 734 822 742 739 734 822 769 757 734 822 789 783 734 822 798 815 734 822 796 847 734 822 780 877 734 822 757 899 734 822 725 912 734 822 693 912 734 822 662 899 734 822 638 877 734 822 623 847 734 822 620 815 734 822 629 783 734 822 648 757"/>
<ellipse class="ac" cx="676" cy="740" rx="20" ry="13"/><circle class="ci" cx="709" cy="734" r="13"/>
<circle class="gf" cx="742" cy="739" r="13"/><circle class="gf" cx="769" cy="757" r="13"/><circle class="gf" cx="789" cy="783" r="13"/><circle class="gf" cx="798" cy="815" r="13"/><circle class="gf" cx="796" cy="847" r="13"/><circle class="gf" cx="780" cy="877" r="13"/><circle class="gf" cx="757" cy="899" r="13"/>
<circle class="lg" cx="725" cy="912" r="13"/><circle class="lg" cx="693" cy="912" r="13"/><circle class="lg" cx="662" cy="899" r="13"/>
<circle class="sb" cx="638" cy="877" r="13"/><circle class="pk" cx="623" cy="847" r="13"/>
<circle class="ye" cx="620" cy="815" r="13"/><circle class="ye" cx="629" cy="783" r="13"/><circle class="ye" cx="648" cy="757" r="13"/>
<text class="t" x="709" y="737">121</text><text class="tb" x="742" y="742">41</text><text class="tb" x="769" y="760">207</text><text class="tb" x="798" y="818">153</text><text class="tb" x="796" y="850">154</text><text class="tb" x="780" y="880">156</text><text class="tb" x="757" y="902">18</text>
<text class="t" x="725" y="915">14</text><text class="t" x="693" y="915">202</text><text class="t" x="662" y="902">15</text><text class="t" x="638" y="880">90</text><text class="t" x="623" y="850">79</text>
<text class="t" x="620" y="818">6</text><text class="t" x="629" y="786">26</text><text class="t" x="648" y="760">99</text>
<ellipse class="hub" cx="734" cy="822" rx="14" ry="16"/><text class="hl" x="734" y="828" font-size="17">D</text>
</g>

<g id="cluster-G">
<path class="spd" d="M575 628L597 681 604 619 597 681 634 627 597 681 656 649 597 681 663 679 597 681 656 709 597 681 634 731 597 681 603 738 597 681 575 732 597 681 553 708 597 681 544 679 597 681 553 649"/>
<circle class="pw" cx="575" cy="628" r="12"/><circle class="ac" cx="604" cy="619" r="12"/><circle class="gy" cx="634" cy="627" r="12"/>
<ellipse class="gf" cx="656" cy="649" rx="8" ry="13"/><circle class="in" cx="663" cy="679" r="13"/><circle class="lg" cx="656" cy="709" r="12"/>
<circle class="pk" cx="634" cy="731" r="12"/><circle class="pk" cx="603" cy="738" r="12"/><circle class="pk" cx="575" cy="732" r="12"/>
<circle class="ye" cx="553" cy="708" r="12"/><circle class="ye" cx="544" cy="679" r="12"/><circle class="ye" cx="553" cy="649" r="12"/>
<text class="tg" x="573" y="610">1</text><text class="tg" x="575" y="632">0</text><text class="tg" x="573" y="652">4</text>
<text class="tg" x="634" y="632">5</text><text class="tg" x="663" y="683">4</text><text class="tg" x="656" y="713">0</text>
<text class="tg" x="634" y="729">7<tspan x="634" dy="11">9</tspan></text><text class="tg" x="603" y="736">2<tspan x="603" dy="11">3</tspan></text><text class="tg" x="575" y="730">8<tspan x="575" dy="11">0</tspan></text>
<text class="tg" x="553" y="706">2<tspan x="553" dy="11">6</tspan></text><text class="tg" x="544" y="677">5<tspan x="544" dy="11">8</tspan></text><text class="tg" x="553" y="653">2</text>
<circle class="hub" cx="597" cy="681" r="11"/><text class="hl" x="597" y="686" font-size="14">G</text>
</g>

<g id="enaredd">
<ellipse cx="1102" cy="604" rx="166" ry="80" fill="url(#eg)"/>
<text x="1102" y="615" font-family="Liberation Sans, Arial, sans-serif" font-size="29" text-anchor="middle" fill="#1a1a1a">ENAREDD+</text>
</g>

<g id="connectors">
<line class="cn" x1="522" y1="325" x2="968" y2="572"/>
<line class="cn" x1="919" y1="227" x2="1041" y2="523"/>
<line class="cn" x1="1298" y1="237" x2="1169" y2="547"/>
<line class="cn" x1="1677" y1="223" x2="1251" y2="573"/>
<line class="cn" x1="1799" y1="483" x2="1268" y2="603"/>
<line class="cn" x1="1805" y1="829" x2="1256" y2="641"/>
<line class="cn" x1="1444" y1="929" x2="1215" y2="680"/>
<line class="cn" x1="1145" y1="908" x2="1104" y2="684"/>
<line class="cn" x1="895" y1="932" x2="1024" y2="679"/>
<line class="cn" x1="734" y1="822" x2="960" y2="647"/>
<line class="cn" x1="597" y1="681" x2="937" y2="604"/>
</g>
</svg>
